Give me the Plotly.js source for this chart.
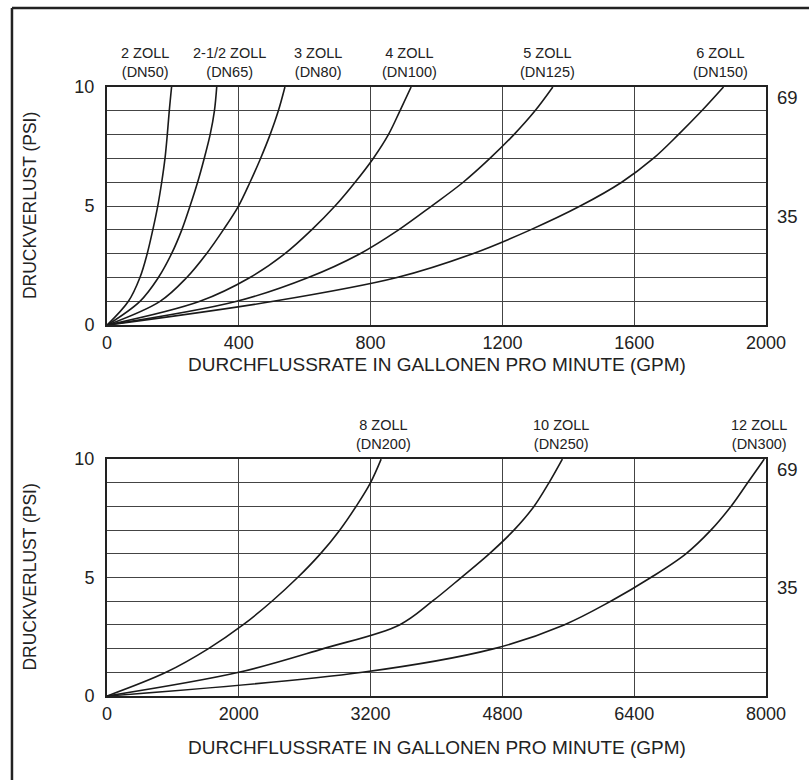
<!DOCTYPE html>
<html>
<head>
<meta charset="utf-8">
<script src="https://cdn.plot.ly/plotly-3.0.1.min.js"></script>
<style>
  html, body { margin: 0; padding: 0; background: #fff; }
  #chart { width: 809px; height: 780px; }
</style>
</head>
<body>
<div id="chart"></div>
<script>
// ---------- DATA ----------
// Pressure loss levels (PSI) used for both charts
const psiLevels = [0, 1, 2, 3, 4, 5, 6, 7, 8, 9, 10];

// Top chart: flow (GPM) at each pressure-loss level
const pipesTop = ['2 ZOLL<br>(DN50)', '2-1/2 ZOLL<br>(DN65)', '3 ZOLL<br>(DN80)', '4 ZOLL<br>(DN100)', '5 ZOLL<br>(DN125)', '6 ZOLL<br>(DN150)'];
const flow2in   = [0, 65, 100, 122, 139, 154, 166, 176, 183, 189, 196];
const flow25in  = [0, 100, 156, 196, 227, 252, 275, 295, 313, 326, 333];
const flow3in   = [0, 161, 242, 302, 353, 399, 434, 466, 495, 520, 540];
const flow4in   = [0, 282, 434, 540, 621, 692, 753, 808, 854, 889, 923];
const flow5in   = [0, 394, 611, 768, 885, 985, 1081, 1162, 1235, 1299, 1353];
const flow6in   = [0, 505, 880, 1110, 1285, 1436, 1562, 1658, 1734, 1805, 1871];

// Bottom chart
const pipesBottom = ['8 ZOLL<br>(DN200)', '10 ZOLL<br>(DN250)', '12 ZOLL<br>(DN300)'];
const flow8in   = [0, 717, 1232, 1650, 2002, 2314, 2590, 2825, 3023, 3198, 3328];
const flow10in  = [0, 1600, 2627, 3550, 3950, 4300, 4640, 4940, 5183, 5365, 5528];
const flow12in  = [0, 3100, 4700, 5548, 6115, 6602, 7027, 7331, 7574, 7777, 7979];

// Axis ticks
const topXTicks = [0, 400, 800, 1200, 1600, 2000];
const topXTickText = ['0', '400', '800', '1200', '1600', '2000'];
const bottomXTicks = [0, 1600, 3200, 4800, 6400, 8000];
const bottomXTickText = ['0', '2000', '3200', '4800', '6400', '8000'];
const yTickText = ['0', '', '', '', '', '5', '', '', '', '', '10'];
// Right-hand kPa labels at psi values
const kpaPsi = [10, 5];
const kpaText = ['69', '35'];
const xTitle = 'DURCHFLUSSRATE IN GALLONEN PRO MINUTE (GPM)';
const yTitle = 'DRUCKVERLUST (PSI)';

// ---------- BUILD ----------
const curveLine = { color: '#1a1a1a', width: 1.6, shape: 'spline', smoothing: 1 };
const topFlows = [flow2in, flow25in, flow3in, flow4in, flow5in, flow6in];
const bottomFlows = [flow8in, flow10in, flow12in];

const traces = [];
topFlows.forEach((f, i) => traces.push({ x: f, y: psiLevels, xaxis: 'x', yaxis: 'y', mode: 'lines', line: curveLine, hoverinfo: 'skip', name: pipesTop[i] }));
bottomFlows.forEach((f, i) => traces.push({ x: f, y: psiLevels, xaxis: 'x2', yaxis: 'y2', mode: 'lines', line: curveLine, hoverinfo: 'skip', name: pipesBottom[i] }));

const FONT = '"Liberation Sans", Arial, Helvetica, sans-serif';
const TXT = '#222';
const labelFont = { family: FONT, size: 14.5, color: TXT };
const topShift = [-27, 13, 33, -2, -5, -3];
const bottomShift = [2, -1, -5];

const annotations = [];
topFlows.forEach((f, i) => annotations.push({
  xref: 'x', yref: 'y', x: f[f.length - 1], y: 10, text: pipesTop[i],
  showarrow: false, xanchor: 'center', yanchor: 'bottom', yshift: 5, xshift: topShift[i], font: labelFont, align: 'center'
}));
bottomFlows.forEach((f, i) => annotations.push({
  xref: 'x2', yref: 'y2', x: f[f.length - 1], y: 10, text: pipesBottom[i],
  showarrow: false, xanchor: 'center', yanchor: 'bottom', yshift: 5, xshift: bottomShift[i], font: labelFont, align: 'center'
}));
['y', 'y2'].forEach(yr => kpaPsi.forEach((p, i) => annotations.push({
  xref: 'paper', yref: yr, x: 1, y: p, text: kpaText[i], showarrow: false,
  xanchor: 'left', yanchor: 'middle', xshift: 9, yshift: -10, font: { family: FONT, size: 18.5, color: TXT }
})));
// axis titles
[['y domain', -39], ['y2 domain', -51]].forEach(([yr, sh]) => annotations.push({
  xref: 'paper', yref: yr, x: 0.5, y: 0, text: xTitle, showarrow: false,
  xanchor: 'center', yanchor: 'middle', yshift: sh, font: { family: FONT, size: 19, color: TXT }
}));
['y domain', 'y2 domain'].forEach(yr => annotations.push({
  xref: 'paper', yref: yr, x: 0, y: 0.5, text: yTitle, showarrow: false, textangle: -90,
  xanchor: 'center', yanchor: 'middle', xshift: -77, font: { family: FONT, size: 17.5, color: TXT }
}));

const gridCol = '#444';
function xAxis(ticks, text, anchor) {
  return {
    anchor: anchor, range: [0, ticks[ticks.length - 1]], tickvals: ticks, ticktext: text,
    showgrid: true, gridcolor: gridCol, gridwidth: 1, zeroline: false,
    showline: true, linecolor: '#222', linewidth: 2, mirror: true, ticks: '',
    ticklabelstandoff: 0,
    tickfont: { family: FONT, size: 18, color: TXT },
    fixedrange: true
  };
}
function yAxis(domain, anchor) {
  return {
    anchor: anchor, domain: domain, range: [0, 10], tickvals: psiLevels, ticktext: yTickText,
    showgrid: true, gridcolor: gridCol, gridwidth: 1, zeroline: false,
    showline: true, linecolor: '#222', linewidth: 2, mirror: true, ticks: '',
    ticklabelstandoff: 7,
    tickfont: { family: FONT, size: 18, color: TXT },
    fixedrange: true
  };
}

const layout = {
  width: 809, height: 780,
  margin: { l: 107, r: 43, t: 87, b: 84 },
  paper_bgcolor: '#fff', plot_bgcolor: '#fff',
  showlegend: false,
  xaxis: xAxis(topXTicks, topXTickText, 'y'),
  yaxis: yAxis([0.609, 1], 'x'),
  xaxis2: xAxis(bottomXTicks, bottomXTickText, 'y2'),
  yaxis2: yAxis([0, 0.389], 'x2'),
  annotations: annotations,
  shapes: [
    { type: 'line', xref: 'paper', yref: 'paper', x0: -0.1442, x1: 1.07, y0: 1.1297, y1: 1.1297, line: { color: '#222', width: 2.5 } },
    { type: 'line', xref: 'paper', yref: 'paper', x0: -0.1442, x1: -0.1442, y0: 1.1297, y1: -0.14, line: { color: '#222', width: 2.5 } }
  ]
};

Plotly.newPlot('chart', traces, layout, { staticPlot: true, displayModeBar: false });
</script>
</body>
</html>
